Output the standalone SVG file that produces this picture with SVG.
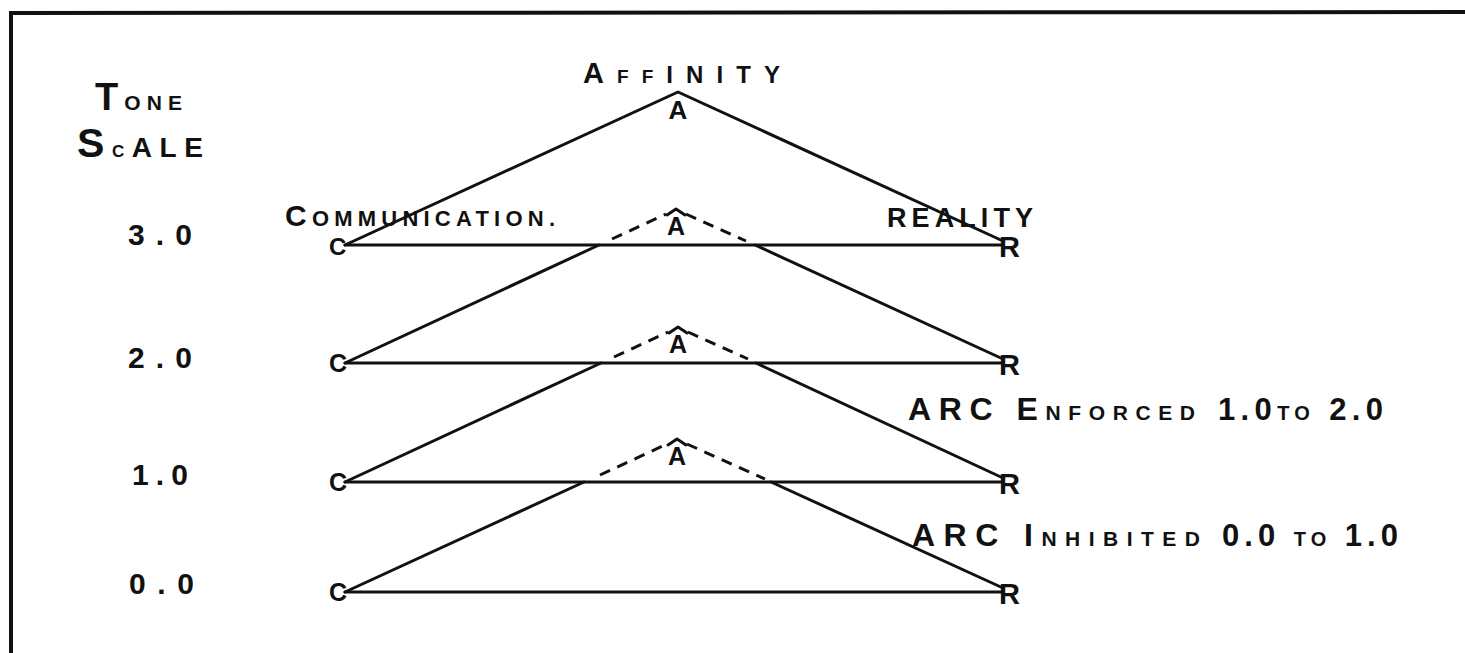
<svg xmlns="http://www.w3.org/2000/svg" width="1465" height="653" viewBox="0 0 1465 653">
<style>
.t{font-family:"Liberation Sans","DejaVu Sans",sans-serif;font-weight:bold;fill:#111;}
.ln{stroke:#111;stroke-width:3;fill:none;stroke-linecap:round;stroke-linejoin:round;}
.ds{stroke:#111;stroke-width:3;fill:none;stroke-dasharray:11 8;}
</style>
<rect width="1465" height="653" fill="#fff"/>
<g id="border">
<path d="M11,653 L11,13 L1465,12" stroke="#111" stroke-width="4" fill="none"/>
</g>
<g id="title">
<text class="t" x="95" y="110" textLength="87" lengthAdjust="spacing"><tspan font-size="38">T</tspan><tspan font-size="21">ONE</tspan></text>
<text class="t" x="77" y="157" textLength="126" lengthAdjust="spacing"><tspan font-size="41">S</tspan><tspan font-size="17">C</tspan><tspan font-size="28">ALE</tspan></text>
</g>
<g id="scale-labels">
<text class="t" x="128" y="245" font-size="30" textLength="64" lengthAdjust="spacing">3.0</text>
<text class="t" x="128" y="368" font-size="30" textLength="64" lengthAdjust="spacing">2.0</text>
<text class="t" x="132" y="485" font-size="30" textLength="56" lengthAdjust="spacing">1.0</text>
<text class="t" x="129" y="594" font-size="30" textLength="65" lengthAdjust="spacing">0.0</text>
</g>
<g id="connectors">
<polyline class="ln" points="345,245 678,92 1003,241"/>
<line class="ln" x1="345" y1="245" x2="1003" y2="245"/>
<line class="ln" x1="345" y1="363" x2="1003" y2="363"/>
<line class="ln" x1="345" y1="482" x2="1003" y2="482"/>
<line class="ln" x1="345" y1="592" x2="1003" y2="592"/>
<line class="ln" x1="345" y1="363" x2="599" y2="245"/>
<line class="ln" x1="755" y1="245" x2="1003" y2="359"/>
<path class="ds" d="M612,239 L666,214 M686,214 L746,241"/>
<line class="ln" x1="345" y1="482" x2="601" y2="363"/>
<line class="ln" x1="756" y1="363" x2="1003" y2="478"/>
<path class="ds" d="M614,357 L668,332 M688,332 L748,359"/>
<line class="ln" x1="345" y1="592" x2="584" y2="482"/>
<line class="ln" x1="771" y1="482" x2="1003" y2="588"/>
<path class="ds" d="M600,475 L667,444 M687,444 L765,479"/>
</g>
<g id="affinity">
<text class="t" x="583" y="83" textLength="197" lengthAdjust="spacing"><tspan font-size="29">A</tspan><tspan font-size="19">FF</tspan><tspan font-size="24">INITY</tspan></text>
<text class="t" x="678" y="119" font-size="26" text-anchor="middle">A</text>
</g>
<g id="affinity-2">
<path class="ln" d="M667,215 L676,209 L685,215"/>
<text class="t" x="676" y="235" font-size="25" text-anchor="middle">A</text>
</g>
<g id="affinity-1">
<path class="ln" d="M669,333 L678,327 L687,333"/>
<text class="t" x="678" y="353" font-size="25" text-anchor="middle">A</text>
</g>
<g id="affinity-0">
<path class="ln" d="M668,445 L677,439 L686,445"/>
<text class="t" x="677" y="465" font-size="25" text-anchor="middle">A</text>
</g>
<g id="communication">
<text class="t" x="285" y="226" textLength="270" lengthAdjust="spacing"><tspan font-size="30">C</tspan><tspan font-size="22">OMMUNICATION.</tspan></text>
<text class="t" x="329" y="255" font-size="24">C</text>
<text class="t" x="329" y="372" font-size="25">C</text>
<text class="t" x="329" y="491" font-size="25">C</text>
<text class="t" x="329" y="601" font-size="25">C</text>
</g>
<g id="reality">
<text class="t" x="887" y="227" font-size="27" textLength="146" lengthAdjust="spacing">REALITY</text>
<text class="t" x="999" y="257" font-size="29">R</text>
<text class="t" x="999" y="375" font-size="29">R</text>
<text class="t" x="999" y="494" font-size="29">R</text>
<text class="t" x="999" y="604" font-size="29">R</text>
</g>
<g id="arc-enforced">
<text class="t" x="908" y="420" textLength="287" lengthAdjust="spacing"><tspan font-size="32">ARC E</tspan><tspan font-size="21">NFORCED</tspan></text>
<text class="t" x="1218" y="420" textLength="165" lengthAdjust="spacing"><tspan font-size="31">1.0</tspan><tspan font-size="20">TO</tspan><tspan font-size="31"> 2.0</tspan></text>
</g>
<g id="arc-inhibited">
<text class="t" x="912" y="546" textLength="288" lengthAdjust="spacing"><tspan font-size="32">ARC I</tspan><tspan font-size="21">NHIBITED</tspan></text>
<text class="t" x="1222" y="546" textLength="176" lengthAdjust="spacing"><tspan font-size="31">0.0 </tspan><tspan font-size="20">TO</tspan><tspan font-size="31"> 1.0</tspan></text>
</g>
</svg>
